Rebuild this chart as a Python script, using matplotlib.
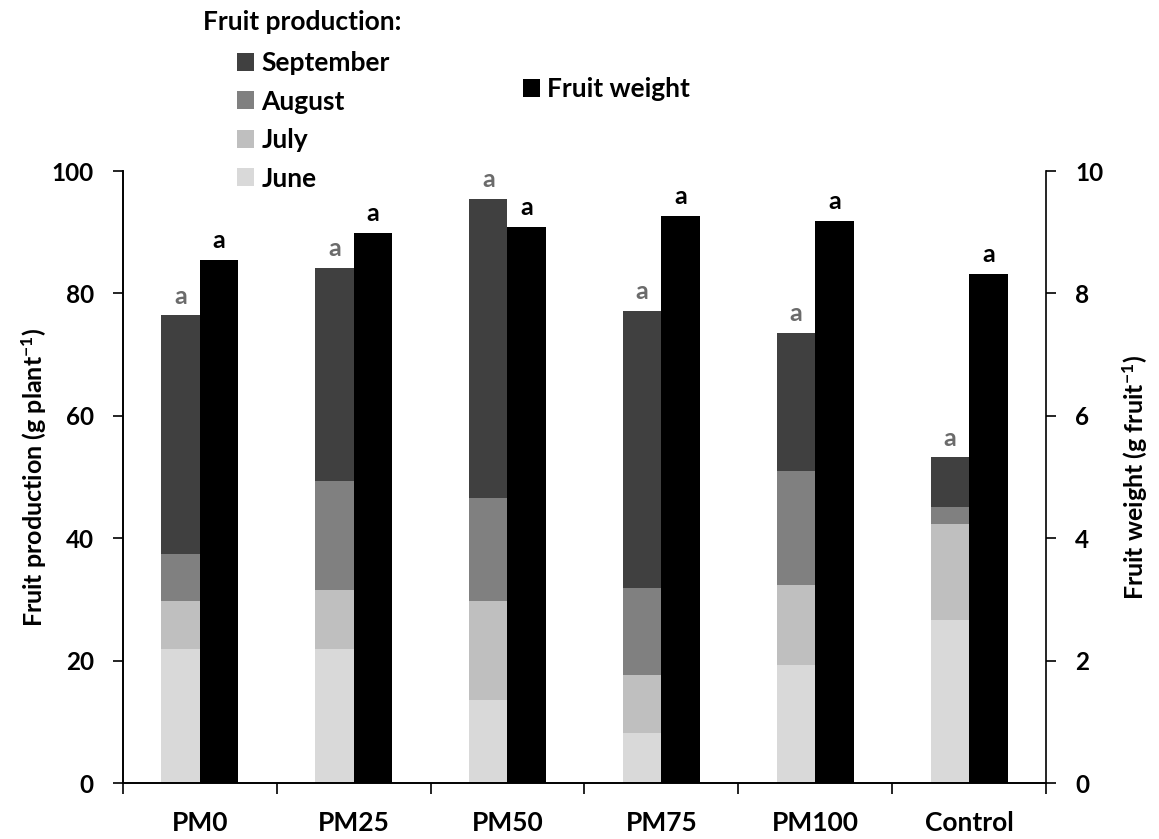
import numpy as np
import matplotlib
matplotlib.use("Agg")
import matplotlib.pyplot as plt
from matplotlib.patches import Patch

plt.rcParams['font.family'] = ['Lato', 'DejaVu Sans']
plt.rcParams['font.weight'] = 'bold'
plt.rcParams['axes.labelweight'] = 'bold'
plt.rcParams['mathtext.fontset'] = 'custom'
plt.rcParams['mathtext.rm'] = 'Lato:bold'
plt.rcParams['mathtext.default'] = 'rm'

# data
treatments = ['PM0', 'PM25', 'PM50', 'PM75', 'PM100', 'Control']
june = [21.9, 21.9, 13.6, 8.2, 19.3, 26.6]
july = [7.8, 9.7, 16.1, 9.4, 13.0, 15.7]
august = [7.8, 17.7, 16.8, 14.2, 18.7, 2.8]
september = [38.9, 34.9, 48.9, 45.3, 22.5, 8.1]
fruit_weight = [8.54, 8.99, 9.08, 9.27, 9.18, 8.32]
prod_letters = ['a', 'a', 'a', 'a', 'a', 'a']
weight_letters = ['a', 'a', 'a', 'a', 'a', 'a']

months = ['June', 'July', 'August', 'September']
month_colors = ['#d9d9d9', '#bfbfbf', '#808080', '#404040']

fig = plt.figure(figsize=(11.59, 8.39), dpi=100)
ax = fig.add_axes([0.106, 0.0667, 0.7965, 0.7294])
ax2 = ax.twinx()

x = np.arange(len(treatments))
w = 0.25
bottom = np.zeros(len(treatments))
for vals, col in zip([june, july, august, september], month_colors):
    ax.bar(x - w / 2, vals, w, bottom=bottom, color=col, linewidth=0)
    bottom += np.array(vals)

ax2.bar(x + w / 2, fruit_weight, w, color='black', linewidth=0)

for i in range(len(treatments)):
    ax.text(x[i] - w / 2, bottom[i] + 1.3, prod_letters[i], ha='center', va='bottom',
            fontsize=18, color='#6b6b6b', fontweight='bold')
    ax2.text(x[i] + w / 2, fruit_weight[i] + 0.13, weight_letters[i], ha='center', va='bottom',
             fontsize=18, color='black', fontweight='bold')

ax.set_xlim(-0.5, len(treatments) - 0.5)
ax.set_ylim(0, 100)
ax2.set_ylim(0, 10)
ax.set_yticks(np.arange(0, 101, 20))
ax2.set_yticks(np.arange(0, 11, 2))
ax.set_xticks(x)
ax.set_xticklabels(treatments)
ax.set_xticks(np.arange(-0.5, len(treatments)), minor=True)
ax.tick_params(axis='x', which='major', length=0, pad=20, labelsize=19)
ax.tick_params(axis='x', which='minor', length=8, width=1.2, direction='out')
ax.tick_params(axis='y', length=7, width=1.2, labelsize=17.5, pad=14)
ax2.tick_params(axis='y', length=7, width=1.2, labelsize=17.5, pad=14)

for a in (ax, ax2):
    a.spines['top'].set_visible(False)
    for s in ('left', 'right', 'bottom'):
        a.spines[s].set_linewidth(1.2)
ax.spines['right'].set_visible(False)

ax.set_ylabel(r'Fruit production (g plant$^{-1}$)', fontsize=18, labelpad=2)
ax2.set_ylabel(r'Fruit weight (g fruit$^{-1}$)', fontsize=18, labelpad=12)

# legends
fig.text(203 / 1159, 1 - 22 / 839, 'Fruit production:', fontsize=19, va='center', ha='left')
handles = [Patch(facecolor=c) for c in month_colors[::-1]]
fig.legend(handles, months[::-1], loc='upper left', bbox_to_anchor=(237 / 1159, 1 - 51 / 839),
           frameon=False, fontsize=19, handlelength=0.65, handleheight=0.65,
           handletextpad=0.27, labelspacing=0.55, borderpad=0, borderaxespad=0)
fig.legend([Patch(facecolor='black')], ['Fruit weight'], loc='upper left',
           bbox_to_anchor=(523 / 1159, 1 - 77 / 839), frameon=False, fontsize=19,
           handlelength=0.65, handleheight=0.65, handletextpad=0.27, borderpad=0, borderaxespad=0)

fig.savefig('out.png', dpi=100)
